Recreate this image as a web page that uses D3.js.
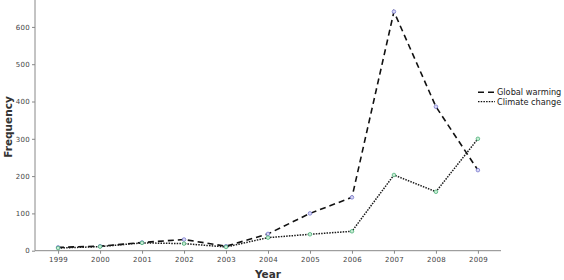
<!DOCTYPE html>
<html><head><meta charset="utf-8">
<script src="https://cdn.jsdelivr.net/npm/d3@7"></script>
<style>body{margin:0;background:#fff}svg{display:block}</style>
</head><body>
<svg id="c" width="564" height="280"></svg>
<script>
const years = ["1999","2000","2001","2002","2003","2004","2005","2006","2007","2008","2009"];
const globalWarming = [9, 12, 22, 30, 12, 45, 100, 143, 641, 386, 216];
const climateChange = [7, 11, 21, 19, 10, 35, 44, 52, 203, 158, 300];
const yTicks = [0, 100, 200, 300, 400, 500, 600];
const seriesNames = ["Global warming", "Climate change"];

const svg = d3.select("#c");
const x = d3.scalePoint().domain(years).range([35, 501]).padding(0.55);
const y = d3.scaleLinear().domain([0, 670]).range([250.7, 0.8]);
const font = "DejaVu Sans, sans-serif";

// axes
const xAxis = svg.append("g").attr("transform", "translate(0,250.7)")
  .call(d3.axisBottom(x).tickSize(3).tickPadding(3));
const yAxis = svg.append("g").attr("transform", "translate(35,0)")
  .call(d3.axisLeft(y).tickValues(yTicks).tickSize(3).tickPadding(2));
[xAxis, yAxis].forEach(g => {
  g.select(".domain").attr("stroke", "#888").attr("stroke-width", 1);
  g.selectAll(".tick line").attr("stroke", "#888");
  g.selectAll("text").attr("font-family", font).attr("font-size", 7).attr("fill", "#444").attr("letter-spacing", 0.3);
});
yAxis.select(".domain").attr("d", "M0,250.7V0");
xAxis.select(".domain").attr("d", "M35,0H501");

const line = d3.line().x((d, i) => x(years[i])).y(d => y(d));

svg.append("path").datum(globalWarming).attr("d", line)
  .attr("fill", "none").attr("stroke", "#111").attr("stroke-width", 1.6)
  .attr("stroke-dasharray", "6,4");
svg.append("path").datum(climateChange).attr("d", line)
  .attr("fill", "none").attr("stroke", "#1a1a1a").attr("stroke-width", 1.5)
  .attr("stroke-dasharray", "1.5,1.2");

svg.append("g").selectAll("circle").data(globalWarming).join("circle")
  .attr("cx", (d, i) => x(years[i])).attr("cy", d => y(d)).attr("r", 1.8)
  .attr("fill", "#d8d8f4").attr("stroke", "#6a6ac8").attr("stroke-width", 0.7);
svg.append("g").selectAll("circle").data(climateChange).join("circle")
  .attr("cx", (d, i) => x(years[i])).attr("cy", d => y(d)).attr("r", 1.8)
  .attr("fill", "#c8ecd4").attr("stroke", "#3aa86a").attr("stroke-width", 0.7);

// axis titles
svg.append("text").attr("x", 268).attr("y", 278).attr("text-anchor", "middle")
  .attr("font-family", font).attr("font-weight", "bold").attr("font-size", 10.5)
  .attr("fill", "#333").text("Year");
svg.append("text").attr("transform", "translate(12,127) rotate(-90)").attr("text-anchor", "middle")
  .attr("font-family", font).attr("font-weight", "bold").attr("font-size", 10.5)
  .attr("fill", "#333").text("Frequency");

// legend
const lg = svg.append("g");
const dashes = ["6,4", "1.5,1.2"];
seriesNames.forEach((n, i) => {
  const yy = 92.3 + i * 9.4;
  lg.append("line").attr("x1", 478).attr("x2", 495).attr("y1", yy).attr("y2", yy)
    .attr("stroke", "#111").attr("stroke-width", i ? 1.3 : 1.5).attr("stroke-dasharray", dashes[i]);
  lg.append("text").attr("x", 497).attr("y", yy + 3).attr("font-family", font)
    .attr("font-size", 8.2).attr("fill", "#222").text(n);
});
</script>
</body></html>
